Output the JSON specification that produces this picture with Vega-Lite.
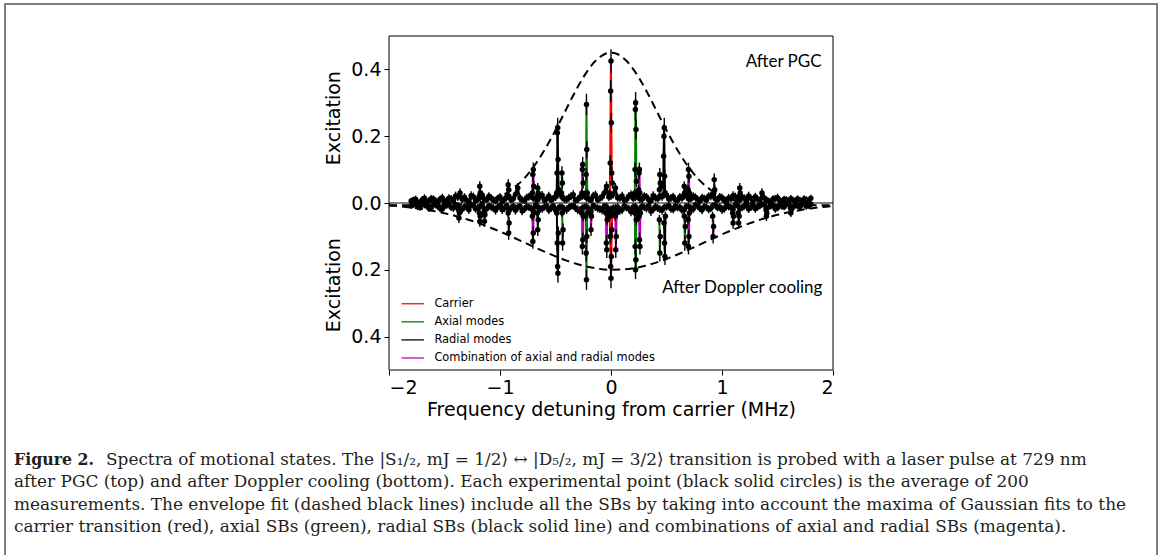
{
"$schema": "https://vega.github.io/schema/vega-lite/v6.json",
"width": 1152,
"height": 553,
"autosize": "none",
"padding": {"left": 5, "top": 4, "right": 5, "bottom": -2},
"background": "white",
"config": {
  "view": {"stroke": "#7f7f7f", "strokeWidth": 2},
  "axis": {"grid": false, "domain": false, "labelFont": "DejaVu Sans", "labelFontSize": 19, "labelColor": "black", "tickColor": "black", "tickSize": 5, "tickWidth": 1, "labelPadding": 3, "titleFont": "DejaVu Sans", "titleFontSize": 19, "titleFontWeight": "normal", "titleColor": "black", "titlePadding": 3}
},
"datasets": {
"spec": [
{"x":-1.8,"y":0.006,"e":0.010,"c":"k","g":"T"},{"x":-1.76,"y":0.011,"e":0.011,"c":"k","g":"T"},{"x":-1.72,"y":0.003,"e":0.009,"c":"k","g":"T"},{"x":-1.68,"y":0.014,"e":0.012,"c":"k","g":"T"},{"x":-1.64,"y":0.007,"e":0.010,"c":"k","g":"T"},{"x":-1.6,"y":0.012,"e":0.011,"c":"k","g":"T"},{"x":-1.56,"y":0.002,"e":0.009,"c":"k","g":"T"},{"x":-1.52,"y":0.016,"e":0.012,"c":"k","g":"T"},{"x":-1.48,"y":0.008,"e":0.010,"c":"k","g":"T"},{"x":-1.44,"y":0.013,"e":0.011,"c":"k","g":"T"},{"x":-1.4,"y":0.021,"e":0.013,"c":"k","g":"T"},{"x":-1.36,"y":0.030,"e":0.014,"c":"k","g":"T"},{"x":-1.32,"y":0.017,"e":0.012,"c":"k","g":"T"},{"x":-1.28,"y":0.005,"e":0.009,"c":"k","g":"T"},{"x":-1.24,"y":0.019,"e":0.012,"c":"k","g":"T"},{"x":-1.2,"y":0.012,"e":0.011,"c":"k","g":"T"},{"x":-1.16,"y":0.024,"e":0.013,"c":"k","g":"T"},{"x":-1.12,"y":0.010,"e":0.010,"c":"k","g":"T"},{"x":-1.08,"y":0.015,"e":0.011,"c":"k","g":"T"},{"x":-1.04,"y":0.006,"e":0.010,"c":"k","g":"T"},{"x":-1.0,"y":0.018,"e":0.012,"c":"k","g":"T"},{"x":-0.96,"y":0.011,"e":0.011,"c":"k","g":"T"},{"x":-0.92,"y":0.020,"e":0.012,"c":"k","g":"T"},{"x":-0.88,"y":0.013,"e":0.011,"c":"k","g":"T"},{"x":-0.84,"y":0.045,"e":0.015,"c":"k","g":"T"},{"x":-0.8,"y":0.009,"e":0.010,"c":"k","g":"T"},{"x":-0.76,"y":0.016,"e":0.012,"c":"k","g":"T"},{"x":-0.72,"y":0.022,"e":0.013,"c":"k","g":"T"},{"x":-0.68,"y":0.012,"e":0.011,"c":"k","g":"T"},{"x":-0.64,"y":0.019,"e":0.012,"c":"k","g":"T"},{"x":-0.6,"y":0.008,"e":0.010,"c":"k","g":"T"},{"x":-0.56,"y":0.021,"e":0.013,"c":"k","g":"T"},{"x":-0.52,"y":0.014,"e":0.011,"c":"k","g":"T"},{"x":-0.48,"y":0.026,"e":0.013,"c":"k","g":"T"},{"x":-0.44,"y":0.017,"e":0.012,"c":"k","g":"T"},{"x":-0.4,"y":0.011,"e":0.011,"c":"k","g":"T"},{"x":-0.36,"y":0.020,"e":0.012,"c":"k","g":"T"},{"x":-0.32,"y":0.008,"e":0.010,"c":"k","g":"T"},{"x":-0.28,"y":0.018,"e":0.012,"c":"k","g":"T"},{"x":-0.24,"y":0.024,"e":0.013,"c":"k","g":"T"},{"x":-0.2,"y":0.013,"e":0.011,"c":"k","g":"T"},{"x":-0.16,"y":0.021,"e":0.013,"c":"k","g":"T"},{"x":-0.12,"y":0.010,"e":0.010,"c":"k","g":"T"},{"x":-0.08,"y":0.019,"e":0.012,"c":"k","g":"T"},{"x":-0.04,"y":0.050,"e":0.015,"c":"k","g":"T"},{"x":0.0,"y":0.022,"e":0.013,"c":"k","g":"T"},{"x":0.04,"y":0.045,"e":0.015,"c":"k","g":"T"},{"x":0.08,"y":0.015,"e":0.011,"c":"k","g":"T"},{"x":0.12,"y":0.009,"e":0.010,"c":"k","g":"T"},{"x":0.16,"y":0.020,"e":0.012,"c":"k","g":"T"},{"x":0.2,"y":0.014,"e":0.011,"c":"k","g":"T"},{"x":0.24,"y":0.023,"e":0.013,"c":"k","g":"T"},{"x":0.28,"y":0.011,"e":0.011,"c":"k","g":"T"},{"x":0.32,"y":0.018,"e":0.012,"c":"k","g":"T"},{"x":0.36,"y":0.007,"e":0.010,"c":"k","g":"T"},{"x":0.4,"y":0.016,"e":0.012,"c":"k","g":"T"},{"x":0.44,"y":0.021,"e":0.013,"c":"k","g":"T"},{"x":0.48,"y":0.028,"e":0.014,"c":"k","g":"T"},{"x":0.52,"y":0.012,"e":0.011,"c":"k","g":"T"},{"x":0.56,"y":0.019,"e":0.012,"c":"k","g":"T"},{"x":0.6,"y":0.008,"e":0.010,"c":"k","g":"T"},{"x":0.64,"y":0.015,"e":0.011,"c":"k","g":"T"},{"x":0.68,"y":0.022,"e":0.013,"c":"k","g":"T"},{"x":0.72,"y":0.013,"e":0.011,"c":"k","g":"T"},{"x":0.76,"y":0.017,"e":0.012,"c":"k","g":"T"},{"x":0.8,"y":0.006,"e":0.010,"c":"k","g":"T"},{"x":0.84,"y":0.014,"e":0.011,"c":"k","g":"T"},{"x":0.88,"y":0.020,"e":0.012,"c":"k","g":"T"},{"x":0.92,"y":0.024,"e":0.013,"c":"k","g":"T"},{"x":0.96,"y":0.010,"e":0.010,"c":"k","g":"T"},{"x":1.0,"y":0.016,"e":0.012,"c":"k","g":"T"},{"x":1.04,"y":0.005,"e":0.009,"c":"k","g":"T"},{"x":1.08,"y":0.013,"e":0.011,"c":"k","g":"T"},{"x":1.12,"y":0.019,"e":0.012,"c":"k","g":"T"},{"x":1.16,"y":0.009,"e":0.010,"c":"k","g":"T"},{"x":1.2,"y":0.015,"e":0.011,"c":"k","g":"T"},{"x":1.24,"y":0.021,"e":0.013,"c":"k","g":"T"},{"x":1.28,"y":0.007,"e":0.010,"c":"k","g":"T"},{"x":1.32,"y":0.012,"e":0.011,"c":"k","g":"T"},{"x":1.36,"y":0.030,"e":0.014,"c":"k","g":"T"},{"x":1.4,"y":0.010,"e":0.010,"c":"k","g":"T"},{"x":1.44,"y":0.004,"e":0.009,"c":"k","g":"T"},{"x":1.48,"y":0.013,"e":0.011,"c":"k","g":"T"},{"x":1.52,"y":0.008,"e":0.010,"c":"k","g":"T"},{"x":1.56,"y":0.011,"e":0.011,"c":"k","g":"T"},{"x":1.6,"y":0.003,"e":0.009,"c":"k","g":"T"},{"x":1.64,"y":0.009,"e":0.010,"c":"k","g":"T"},{"x":1.68,"y":0.012,"e":0.011,"c":"k","g":"T"},{"x":1.72,"y":0.005,"e":0.009,"c":"k","g":"T"},{"x":1.76,"y":0.010,"e":0.010,"c":"k","g":"T"},{"x":1.8,"y":0.014,"e":0.011,"c":"k","g":"T"},
{"x":-1.78,"y":0.009,"e":0.010,"c":"k","g":"T"},{"x":-1.74,"y":0.001,"e":0.009,"c":"k","g":"T"},{"x":-1.7,"y":0.010,"e":0.011,"c":"k","g":"T"},{"x":-1.66,"y":0.004,"e":0.009,"c":"k","g":"T"},{"x":-1.62,"y":0.013,"e":0.011,"c":"k","g":"T"},{"x":-1.58,"y":0.007,"e":0.010,"c":"k","g":"T"},{"x":-1.54,"y":0.011,"e":0.011,"c":"k","g":"T"},{"x":-1.5,"y":0.003,"e":0.009,"c":"k","g":"T"},{"x":-1.46,"y":0.014,"e":0.012,"c":"k","g":"T"},{"x":-1.42,"y":0.006,"e":0.010,"c":"k","g":"T"},{"x":-1.38,"y":0.018,"e":0.012,"c":"k","g":"T"},{"x":-1.34,"y":0.011,"e":0.011,"c":"k","g":"T"},{"x":-1.3,"y":0.008,"e":0.010,"c":"k","g":"T"},{"x":-1.26,"y":0.022,"e":0.013,"c":"k","g":"T"},{"x":-1.22,"y":0.006,"e":0.010,"c":"k","g":"T"},{"x":-1.18,"y":0.016,"e":0.012,"c":"k","g":"T"},{"x":-1.14,"y":0.012,"e":0.011,"c":"k","g":"T"},{"x":-1.1,"y":0.020,"e":0.012,"c":"k","g":"T"},{"x":-1.06,"y":0.009,"e":0.010,"c":"k","g":"T"},{"x":-1.02,"y":0.014,"e":0.011,"c":"k","g":"T"},{"x":-0.98,"y":0.004,"e":0.009,"c":"k","g":"T"},{"x":-0.94,"y":0.017,"e":0.012,"c":"k","g":"T"},{"x":-0.9,"y":0.010,"e":0.010,"c":"k","g":"T"},{"x":-0.86,"y":0.026,"e":0.013,"c":"k","g":"T"},{"x":-0.82,"y":0.015,"e":0.012,"c":"k","g":"T"},{"x":-0.78,"y":0.007,"e":0.010,"c":"k","g":"T"},{"x":-0.74,"y":0.019,"e":0.012,"c":"k","g":"T"},{"x":-0.7,"y":0.014,"e":0.011,"c":"k","g":"T"},{"x":-0.66,"y":0.010,"e":0.010,"c":"k","g":"T"},{"x":-0.62,"y":0.023,"e":0.013,"c":"k","g":"T"},{"x":-0.58,"y":0.013,"e":0.011,"c":"k","g":"T"},{"x":-0.54,"y":0.009,"e":0.010,"c":"k","g":"T"},{"x":-0.5,"y":0.018,"e":0.012,"c":"k","g":"T"},{"x":-0.46,"y":0.031,"e":0.014,"c":"k","g":"T"},{"x":-0.42,"y":0.012,"e":0.011,"c":"k","g":"T"},{"x":-0.38,"y":0.016,"e":0.012,"c":"k","g":"T"},{"x":-0.34,"y":0.025,"e":0.013,"c":"k","g":"T"},{"x":-0.3,"y":0.011,"e":0.011,"c":"k","g":"T"},{"x":-0.26,"y":0.020,"e":0.012,"c":"k","g":"T"},{"x":-0.22,"y":0.015,"e":0.012,"c":"k","g":"T"},{"x":-0.18,"y":0.009,"e":0.010,"c":"k","g":"T"},{"x":-0.14,"y":0.024,"e":0.013,"c":"k","g":"T"},{"x":-0.1,"y":0.014,"e":0.011,"c":"k","g":"T"},{"x":-0.06,"y":0.030,"e":0.014,"c":"k","g":"T"},{"x":-0.02,"y":0.018,"e":0.012,"c":"k","g":"T"},{"x":0.02,"y":0.026,"e":0.013,"c":"k","g":"T"},{"x":0.06,"y":0.016,"e":0.012,"c":"k","g":"T"},{"x":0.1,"y":0.021,"e":0.013,"c":"k","g":"T"},{"x":0.14,"y":0.011,"e":0.011,"c":"k","g":"T"},{"x":0.18,"y":0.025,"e":0.013,"c":"k","g":"T"},{"x":0.22,"y":0.017,"e":0.012,"c":"k","g":"T"},{"x":0.26,"y":0.012,"e":0.011,"c":"k","g":"T"},{"x":0.3,"y":0.020,"e":0.012,"c":"k","g":"T"},{"x":0.34,"y":0.010,"e":0.010,"c":"k","g":"T"},{"x":0.38,"y":0.022,"e":0.013,"c":"k","g":"T"},{"x":0.42,"y":0.013,"e":0.011,"c":"k","g":"T"},{"x":0.46,"y":0.019,"e":0.012,"c":"k","g":"T"},{"x":0.5,"y":0.024,"e":0.013,"c":"k","g":"T"},{"x":0.54,"y":0.015,"e":0.012,"c":"k","g":"T"},{"x":0.58,"y":0.010,"e":0.010,"c":"k","g":"T"},{"x":0.62,"y":0.018,"e":0.012,"c":"k","g":"T"},{"x":0.66,"y":0.026,"e":0.013,"c":"k","g":"T"},{"x":0.7,"y":0.012,"e":0.011,"c":"k","g":"T"},{"x":0.74,"y":0.020,"e":0.012,"c":"k","g":"T"},{"x":0.78,"y":0.011,"e":0.011,"c":"k","g":"T"},{"x":0.82,"y":0.016,"e":0.012,"c":"k","g":"T"},{"x":0.86,"y":0.009,"e":0.010,"c":"k","g":"T"},{"x":0.9,"y":0.021,"e":0.013,"c":"k","g":"T"},{"x":0.94,"y":0.013,"e":0.011,"c":"k","g":"T"},{"x":0.98,"y":0.018,"e":0.012,"c":"k","g":"T"},{"x":1.02,"y":0.008,"e":0.010,"c":"k","g":"T"},{"x":1.06,"y":0.015,"e":0.012,"c":"k","g":"T"},{"x":1.1,"y":0.022,"e":0.013,"c":"k","g":"T"},{"x":1.14,"y":0.010,"e":0.010,"c":"k","g":"T"},{"x":1.18,"y":0.017,"e":0.012,"c":"k","g":"T"},{"x":1.22,"y":0.007,"e":0.010,"c":"k","g":"T"},{"x":1.26,"y":0.014,"e":0.011,"c":"k","g":"T"},{"x":1.3,"y":0.019,"e":0.012,"c":"k","g":"T"},{"x":1.34,"y":0.009,"e":0.010,"c":"k","g":"T"},{"x":1.38,"y":0.015,"e":0.012,"c":"k","g":"T"},{"x":1.42,"y":0.006,"e":0.010,"c":"k","g":"T"},{"x":1.46,"y":0.012,"e":0.011,"c":"k","g":"T"},{"x":1.5,"y":0.016,"e":0.012,"c":"k","g":"T"},{"x":1.54,"y":0.005,"e":0.009,"c":"k","g":"T"},{"x":1.58,"y":0.010,"e":0.010,"c":"k","g":"T"},{"x":1.62,"y":0.013,"e":0.011,"c":"k","g":"T"},{"x":1.66,"y":0.004,"e":0.009,"c":"k","g":"T"},{"x":1.7,"y":0.009,"e":0.010,"c":"k","g":"T"},{"x":1.74,"y":0.012,"e":0.011,"c":"k","g":"T"},{"x":1.78,"y":0.003,"e":0.009,"c":"k","g":"T"},
{"x":-1.8,"y":-0.008,"e":0.010,"c":"k","g":"B"},{"x":-1.76,"y":-0.003,"e":0.009,"c":"k","g":"B"},{"x":-1.72,"y":-0.012,"e":0.011,"c":"k","g":"B"},{"x":-1.68,"y":-0.006,"e":0.010,"c":"k","g":"B"},{"x":-1.64,"y":-0.015,"e":0.012,"c":"k","g":"B"},{"x":-1.6,"y":-0.004,"e":0.009,"c":"k","g":"B"},{"x":-1.56,"y":-0.010,"e":0.010,"c":"k","g":"B"},{"x":-1.52,"y":-0.018,"e":0.012,"c":"k","g":"B"},{"x":-1.48,"y":-0.007,"e":0.010,"c":"k","g":"B"},{"x":-1.44,"y":-0.013,"e":0.011,"c":"k","g":"B"},{"x":-1.4,"y":-0.005,"e":0.009,"c":"k","g":"B"},{"x":-1.36,"y":-0.016,"e":0.012,"c":"k","g":"B"},{"x":-1.32,"y":-0.011,"e":0.011,"c":"k","g":"B"},{"x":-1.28,"y":-0.020,"e":0.013,"c":"k","g":"B"},{"x":-1.24,"y":-0.008,"e":0.010,"c":"k","g":"B"},{"x":-1.2,"y":-0.014,"e":0.011,"c":"k","g":"B"},{"x":-1.16,"y":-0.006,"e":0.010,"c":"k","g":"B"},{"x":-1.12,"y":-0.017,"e":0.012,"c":"k","g":"B"},{"x":-1.08,"y":-0.012,"e":0.011,"c":"k","g":"B"},{"x":-1.04,"y":-0.022,"e":0.013,"c":"k","g":"B"},{"x":-1.0,"y":-0.009,"e":0.010,"c":"k","g":"B"},{"x":-0.96,"y":-0.015,"e":0.012,"c":"k","g":"B"},{"x":-0.92,"y":-0.019,"e":0.012,"c":"k","g":"B"},{"x":-0.88,"y":-0.010,"e":0.010,"c":"k","g":"B"},{"x":-0.84,"y":-0.013,"e":0.011,"c":"k","g":"B"},{"x":-0.8,"y":-0.024,"e":0.013,"c":"k","g":"B"},{"x":-0.76,"y":-0.011,"e":0.011,"c":"k","g":"B"},{"x":-0.72,"y":-0.016,"e":0.012,"c":"k","g":"B"},{"x":-0.68,"y":-0.007,"e":0.010,"c":"k","g":"B"},{"x":-0.64,"y":-0.018,"e":0.012,"c":"k","g":"B"},{"x":-0.6,"y":-0.012,"e":0.011,"c":"k","g":"B"},{"x":-0.56,"y":-0.021,"e":0.013,"c":"k","g":"B"},{"x":-0.52,"y":-0.009,"e":0.010,"c":"k","g":"B"},{"x":-0.48,"y":-0.017,"e":0.012,"c":"k","g":"B"},{"x":-0.44,"y":-0.013,"e":0.011,"c":"k","g":"B"},{"x":-0.4,"y":-0.020,"e":0.013,"c":"k","g":"B"},{"x":-0.36,"y":-0.010,"e":0.010,"c":"k","g":"B"},{"x":-0.32,"y":-0.015,"e":0.012,"c":"k","g":"B"},{"x":-0.28,"y":-0.023,"e":0.013,"c":"k","g":"B"},{"x":-0.24,"y":-0.012,"e":0.011,"c":"k","g":"B"},{"x":-0.2,"y":-0.018,"e":0.012,"c":"k","g":"B"},{"x":-0.16,"y":-0.008,"e":0.010,"c":"k","g":"B"},{"x":-0.12,"y":-0.016,"e":0.012,"c":"k","g":"B"},{"x":-0.08,"y":-0.021,"e":0.013,"c":"k","g":"B"},{"x":-0.04,"y":-0.011,"e":0.011,"c":"k","g":"B"},{"x":0.0,"y":-0.019,"e":0.012,"c":"k","g":"B"},{"x":0.04,"y":-0.014,"e":0.011,"c":"k","g":"B"},{"x":0.08,"y":-0.022,"e":0.013,"c":"k","g":"B"},{"x":0.12,"y":-0.009,"e":0.010,"c":"k","g":"B"},{"x":0.16,"y":-0.017,"e":0.012,"c":"k","g":"B"},{"x":0.2,"y":-0.012,"e":0.011,"c":"k","g":"B"},{"x":0.24,"y":-0.020,"e":0.013,"c":"k","g":"B"},{"x":0.28,"y":-0.010,"e":0.010,"c":"k","g":"B"},{"x":0.32,"y":-0.016,"e":0.012,"c":"k","g":"B"},{"x":0.36,"y":-0.025,"e":0.014,"c":"k","g":"B"},{"x":0.4,"y":-0.011,"e":0.011,"c":"k","g":"B"},{"x":0.44,"y":-0.018,"e":0.012,"c":"k","g":"B"},{"x":0.48,"y":-0.013,"e":0.011,"c":"k","g":"B"},{"x":0.52,"y":-0.008,"e":0.010,"c":"k","g":"B"},{"x":0.56,"y":-0.019,"e":0.012,"c":"k","g":"B"},{"x":0.6,"y":-0.014,"e":0.011,"c":"k","g":"B"},{"x":0.64,"y":-0.021,"e":0.013,"c":"k","g":"B"},{"x":0.68,"y":-0.010,"e":0.010,"c":"k","g":"B"},{"x":0.72,"y":-0.016,"e":0.012,"c":"k","g":"B"},{"x":0.76,"y":-0.006,"e":0.010,"c":"k","g":"B"},{"x":0.8,"y":-0.015,"e":0.012,"c":"k","g":"B"},{"x":0.84,"y":-0.011,"e":0.011,"c":"k","g":"B"},{"x":0.88,"y":-0.019,"e":0.012,"c":"k","g":"B"},{"x":0.92,"y":-0.008,"e":0.010,"c":"k","g":"B"},{"x":0.96,"y":-0.014,"e":0.011,"c":"k","g":"B"},{"x":1.0,"y":-0.020,"e":0.013,"c":"k","g":"B"},{"x":1.04,"y":-0.009,"e":0.010,"c":"k","g":"B"},{"x":1.08,"y":-0.013,"e":0.011,"c":"k","g":"B"},{"x":1.12,"y":-0.005,"e":0.009,"c":"k","g":"B"},{"x":1.16,"y":-0.016,"e":0.012,"c":"k","g":"B"},{"x":1.2,"y":-0.010,"e":0.010,"c":"k","g":"B"},{"x":1.24,"y":-0.018,"e":0.012,"c":"k","g":"B"},{"x":1.28,"y":-0.007,"e":0.010,"c":"k","g":"B"},{"x":1.32,"y":-0.012,"e":0.011,"c":"k","g":"B"},{"x":1.36,"y":-0.004,"e":0.009,"c":"k","g":"B"},{"x":1.4,"y":-0.014,"e":0.011,"c":"k","g":"B"},{"x":1.44,"y":-0.009,"e":0.010,"c":"k","g":"B"},{"x":1.48,"y":-0.017,"e":0.012,"c":"k","g":"B"},{"x":1.52,"y":-0.006,"e":0.010,"c":"k","g":"B"},{"x":1.56,"y":-0.011,"e":0.011,"c":"k","g":"B"},{"x":1.6,"y":-0.003,"e":0.009,"c":"k","g":"B"},{"x":1.64,"y":-0.013,"e":0.011,"c":"k","g":"B"},{"x":1.68,"y":-0.008,"e":0.010,"c":"k","g":"B"},{"x":1.72,"y":-0.005,"e":0.009,"c":"k","g":"B"},{"x":1.76,"y":-0.010,"e":0.010,"c":"k","g":"B"},{"x":1.8,"y":-0.004,"e":0.009,"c":"k","g":"B"},
{"x":-1.78,"y":-0.005,"e":0.009,"c":"k","g":"B"},{"x":-1.74,"y":-0.011,"e":0.011,"c":"k","g":"B"},{"x":-1.7,"y":-0.002,"e":0.009,"c":"k","g":"B"},{"x":-1.66,"y":-0.009,"e":0.010,"c":"k","g":"B"},{"x":-1.62,"y":-0.014,"e":0.011,"c":"k","g":"B"},{"x":-1.58,"y":-0.006,"e":0.010,"c":"k","g":"B"},{"x":-1.54,"y":-0.016,"e":0.012,"c":"k","g":"B"},{"x":-1.5,"y":-0.010,"e":0.010,"c":"k","g":"B"},{"x":-1.46,"y":-0.004,"e":0.009,"c":"k","g":"B"},{"x":-1.42,"y":-0.015,"e":0.012,"c":"k","g":"B"},{"x":-1.38,"y":-0.008,"e":0.010,"c":"k","g":"B"},{"x":-1.34,"y":-0.019,"e":0.012,"c":"k","g":"B"},{"x":-1.3,"y":-0.013,"e":0.011,"c":"k","g":"B"},{"x":-1.26,"y":-0.006,"e":0.010,"c":"k","g":"B"},{"x":-1.22,"y":-0.017,"e":0.012,"c":"k","g":"B"},{"x":-1.18,"y":-0.011,"e":0.011,"c":"k","g":"B"},{"x":-1.14,"y":-0.021,"e":0.013,"c":"k","g":"B"},{"x":-1.1,"y":-0.009,"e":0.010,"c":"k","g":"B"},{"x":-1.06,"y":-0.015,"e":0.012,"c":"k","g":"B"},{"x":-1.02,"y":-0.012,"e":0.011,"c":"k","g":"B"},{"x":-0.98,"y":-0.020,"e":0.013,"c":"k","g":"B"},{"x":-0.94,"y":-0.008,"e":0.010,"c":"k","g":"B"},{"x":-0.9,"y":-0.016,"e":0.012,"c":"k","g":"B"},{"x":-0.86,"y":-0.022,"e":0.013,"c":"k","g":"B"},{"x":-0.82,"y":-0.010,"e":0.010,"c":"k","g":"B"},{"x":-0.78,"y":-0.018,"e":0.012,"c":"k","g":"B"},{"x":-0.74,"y":-0.013,"e":0.011,"c":"k","g":"B"},{"x":-0.7,"y":-0.024,"e":0.013,"c":"k","g":"B"},{"x":-0.66,"y":-0.011,"e":0.011,"c":"k","g":"B"},{"x":-0.62,"y":-0.017,"e":0.012,"c":"k","g":"B"},{"x":-0.58,"y":-0.009,"e":0.010,"c":"k","g":"B"},{"x":-0.54,"y":-0.015,"e":0.012,"c":"k","g":"B"},{"x":-0.5,"y":-0.022,"e":0.013,"c":"k","g":"B"},{"x":-0.46,"y":-0.012,"e":0.011,"c":"k","g":"B"},{"x":-0.42,"y":-0.019,"e":0.012,"c":"k","g":"B"},{"x":-0.38,"y":-0.014,"e":0.011,"c":"k","g":"B"},{"x":-0.34,"y":-0.009,"e":0.010,"c":"k","g":"B"},{"x":-0.3,"y":-0.020,"e":0.013,"c":"k","g":"B"},{"x":-0.26,"y":-0.016,"e":0.012,"c":"k","g":"B"},{"x":-0.22,"y":-0.011,"e":0.011,"c":"k","g":"B"},{"x":-0.18,"y":-0.024,"e":0.013,"c":"k","g":"B"},{"x":-0.14,"y":-0.013,"e":0.011,"c":"k","g":"B"},{"x":-0.1,"y":-0.018,"e":0.012,"c":"k","g":"B"},{"x":-0.06,"y":-0.010,"e":0.010,"c":"k","g":"B"},{"x":-0.02,"y":-0.023,"e":0.013,"c":"k","g":"B"},{"x":0.02,"y":-0.016,"e":0.012,"c":"k","g":"B"},{"x":0.06,"y":-0.012,"e":0.011,"c":"k","g":"B"},{"x":0.1,"y":-0.020,"e":0.013,"c":"k","g":"B"},{"x":0.14,"y":-0.014,"e":0.011,"c":"k","g":"B"},{"x":0.18,"y":-0.026,"e":0.014,"c":"k","g":"B"},{"x":0.22,"y":-0.011,"e":0.011,"c":"k","g":"B"},{"x":0.26,"y":-0.018,"e":0.012,"c":"k","g":"B"},{"x":0.3,"y":-0.013,"e":0.011,"c":"k","g":"B"},{"x":0.34,"y":-0.008,"e":0.010,"c":"k","g":"B"},{"x":0.38,"y":-0.019,"e":0.012,"c":"k","g":"B"},{"x":0.42,"y":-0.015,"e":0.012,"c":"k","g":"B"},{"x":0.46,"y":-0.022,"e":0.013,"c":"k","g":"B"},{"x":0.5,"y":-0.012,"e":0.011,"c":"k","g":"B"},{"x":0.54,"y":-0.017,"e":0.012,"c":"k","g":"B"},{"x":0.58,"y":-0.009,"e":0.010,"c":"k","g":"B"},{"x":0.62,"y":-0.013,"e":0.011,"c":"k","g":"B"},{"x":0.66,"y":-0.020,"e":0.013,"c":"k","g":"B"},{"x":0.7,"y":-0.011,"e":0.011,"c":"k","g":"B"},{"x":0.74,"y":-0.018,"e":0.012,"c":"k","g":"B"},{"x":0.78,"y":-0.010,"e":0.010,"c":"k","g":"B"},{"x":0.82,"y":-0.021,"e":0.013,"c":"k","g":"B"},{"x":0.86,"y":-0.013,"e":0.011,"c":"k","g":"B"},{"x":0.9,"y":-0.016,"e":0.012,"c":"k","g":"B"},{"x":0.94,"y":-0.007,"e":0.010,"c":"k","g":"B"},{"x":0.98,"y":-0.012,"e":0.011,"c":"k","g":"B"},{"x":1.02,"y":-0.017,"e":0.012,"c":"k","g":"B"},{"x":1.06,"y":-0.011,"e":0.011,"c":"k","g":"B"},{"x":1.1,"y":-0.019,"e":0.012,"c":"k","g":"B"},{"x":1.14,"y":-0.008,"e":0.010,"c":"k","g":"B"},{"x":1.18,"y":-0.014,"e":0.011,"c":"k","g":"B"},{"x":1.22,"y":-0.006,"e":0.010,"c":"k","g":"B"},{"x":1.26,"y":-0.013,"e":0.011,"c":"k","g":"B"},{"x":1.3,"y":-0.017,"e":0.012,"c":"k","g":"B"},{"x":1.34,"y":-0.009,"e":0.010,"c":"k","g":"B"},{"x":1.38,"y":-0.005,"e":0.009,"c":"k","g":"B"},{"x":1.42,"y":-0.012,"e":0.011,"c":"k","g":"B"},{"x":1.46,"y":-0.007,"e":0.010,"c":"k","g":"B"},{"x":1.5,"y":-0.014,"e":0.011,"c":"k","g":"B"},{"x":1.54,"y":-0.010,"e":0.010,"c":"k","g":"B"},{"x":1.58,"y":-0.004,"e":0.009,"c":"k","g":"B"},{"x":1.62,"y":-0.011,"e":0.011,"c":"k","g":"B"},{"x":1.66,"y":-0.006,"e":0.010,"c":"k","g":"B"},{"x":1.7,"y":-0.012,"e":0.011,"c":"k","g":"B"},{"x":1.74,"y":-0.003,"e":0.009,"c":"k","g":"B"},{"x":1.78,"y":-0.008,"e":0.010,"c":"k","g":"B"},
{"x":-0.012,"y":0.03,"e":0.012,"c":"r","g":"T1"},{"x":-0.007,"y":0.12,"e":0.023,"c":"r","g":"T1"},{"x":-0.003,"y":0.335,"e":0.033,"c":"r","g":"T1"},{"x":0,"y":0.425,"e":0.035,"c":"r","g":"T1"},{"x":0.003,"y":0.24,"e":0.030,"c":"r","g":"T1"},{"x":0.007,"y":0.09,"e":0.020,"c":"r","g":"T1"},{"x":0.012,"y":0.06,"e":0.017,"c":"r","g":"T1"},
{"x":-0.228,"y":0.02,"e":0.010,"c":"g","g":"T2"},{"x":-0.224,"y":0.085,"e":0.020,"c":"g","g":"T2"},{"x":-0.221,"y":0.295,"e":0.032,"c":"g","g":"T2"},{"x":-0.218,"y":0.16,"e":0.026,"c":"g","g":"T2"},{"x":-0.214,"y":0.03,"e":0.012,"c":"g","g":"T2"},
{"x":0.214,"y":0.03,"e":0.012,"c":"g","g":"T3"},{"x":0.217,"y":0.10,"e":0.021,"c":"g","g":"T3"},{"x":0.220,"y":0.28,"e":0.032,"c":"g","g":"T3"},{"x":0.222,"y":0.30,"e":0.032,"c":"g","g":"T3"},{"x":0.225,"y":0.22,"e":0.029,"c":"g","g":"T3"},{"x":0.229,"y":0.065,"e":0.017,"c":"g","g":"T3"},
{"x":-0.490,"y":0.03,"e":0.012,"c":"k","g":"T4"},{"x":-0.486,"y":0.09,"e":0.020,"c":"k","g":"T4"},{"x":-0.483,"y":0.21,"e":0.029,"c":"k","g":"T4"},{"x":-0.480,"y":0.225,"e":0.030,"c":"k","g":"T4"},{"x":-0.477,"y":0.13,"e":0.024,"c":"k","g":"T4"},{"x":-0.472,"y":0.04,"e":0.014,"c":"k","g":"T4"},
{"x":0.470,"y":0.05,"e":0.015,"c":"k","g":"T5"},{"x":0.474,"y":0.14,"e":0.025,"c":"k","g":"T5"},{"x":0.477,"y":0.20,"e":0.028,"c":"k","g":"T5"},{"x":0.480,"y":0.225,"e":0.030,"c":"k","g":"T5"},{"x":0.483,"y":0.08,"e":0.019,"c":"k","g":"T5"},{"x":0.488,"y":0.03,"e":0.012,"c":"k","g":"T5"},
{"x":-0.262,"y":0.03,"e":0.012,"c":"m","g":"T6"},{"x":-0.258,"y":0.10,"e":0.021,"c":"m","g":"T6"},{"x":-0.255,"y":0.115,"e":0.023,"c":"m","g":"T6"},{"x":-0.251,"y":0.06,"e":0.017,"c":"m","g":"T6"},
{"x":0.249,"y":0.04,"e":0.014,"c":"m","g":"T7"},{"x":0.253,"y":0.09,"e":0.020,"c":"m","g":"T7"},{"x":0.256,"y":0.10,"e":0.021,"c":"m","g":"T7"},{"x":0.260,"y":0.03,"e":0.012,"c":"m","g":"T7"},
{"x":-0.446,"y":0.03,"e":0.012,"c":"g","g":"T8"},{"x":-0.442,"y":0.09,"e":0.020,"c":"g","g":"T8"},{"x":-0.438,"y":0.06,"e":0.017,"c":"g","g":"T8"},
{"x":0.436,"y":0.04,"e":0.014,"c":"g","g":"T9"},{"x":0.440,"y":0.085,"e":0.020,"c":"g","g":"T9"},{"x":0.444,"y":0.06,"e":0.017,"c":"g","g":"T9"},
{"x":-0.708,"y":0.03,"e":0.012,"c":"m","g":"T10"},{"x":-0.704,"y":0.085,"e":0.020,"c":"m","g":"T10"},{"x":-0.700,"y":0.10,"e":0.021,"c":"m","g":"T10"},{"x":-0.696,"y":0.05,"e":0.015,"c":"m","g":"T10"},
{"x":0.694,"y":0.04,"e":0.014,"c":"m","g":"T11"},{"x":0.698,"y":0.10,"e":0.021,"c":"m","g":"T11"},{"x":0.702,"y":0.08,"e":0.019,"c":"m","g":"T11"},{"x":0.706,"y":0.03,"e":0.012,"c":"m","g":"T11"},
{"x":-0.664,"y":0.02,"e":0.010,"c":"g","g":"T12"},{"x":-0.660,"y":0.045,"e":0.015,"c":"g","g":"T12"},{"x":-0.656,"y":0.03,"e":0.012,"c":"g","g":"T12"},
{"x":0.656,"y":0.02,"e":0.010,"c":"g","g":"T13"},{"x":0.660,"y":0.05,"e":0.015,"c":"g","g":"T13"},{"x":0.664,"y":0.03,"e":0.012,"c":"g","g":"T13"},
{"x":-0.930,"y":0.02,"e":0.010,"c":"m","g":"T14"},{"x":-0.926,"y":0.055,"e":0.016,"c":"m","g":"T14"},{"x":-0.922,"y":0.04,"e":0.014,"c":"m","g":"T14"},
{"x":0.926,"y":0.03,"e":0.012,"c":"m","g":"T15"},{"x":0.930,"y":0.07,"e":0.018,"c":"m","g":"T15"},{"x":0.934,"y":0.04,"e":0.014,"c":"m","g":"T15"},
{"x":-1.186,"y":0.02,"e":0.010,"c":"m","g":"T16"},{"x":-1.182,"y":0.05,"e":0.015,"c":"m","g":"T16"},{"x":-1.178,"y":0.03,"e":0.012,"c":"m","g":"T16"},
{"x":1.156,"y":0.02,"e":0.010,"c":"m","g":"T17"},{"x":1.160,"y":0.045,"e":0.015,"c":"m","g":"T17"},{"x":1.164,"y":0.03,"e":0.012,"c":"m","g":"T17"},
{"x":-0.012,"y":-0.04,"e":0.014,"c":"r","g":"B1"},{"x":-0.007,"y":-0.10,"e":0.021,"c":"r","g":"B1"},{"x":-0.003,"y":-0.19,"e":0.028,"c":"r","g":"B1"},{"x":0,"y":-0.225,"e":0.030,"c":"r","g":"B1"},{"x":0.003,"y":-0.16,"e":0.026,"c":"r","g":"B1"},{"x":0.007,"y":-0.08,"e":0.019,"c":"r","g":"B1"},{"x":0.012,"y":-0.03,"e":0.012,"c":"r","g":"B1"},
{"x":-0.046,"y":-0.03,"e":0.012,"c":"m","g":"B2"},{"x":-0.042,"y":-0.12,"e":0.023,"c":"m","g":"B2"},{"x":-0.038,"y":-0.14,"e":0.025,"c":"m","g":"B2"},{"x":-0.034,"y":-0.05,"e":0.015,"c":"m","g":"B2"},
{"x":0.039,"y":-0.04,"e":0.014,"c":"m","g":"B3"},{"x":0.043,"y":-0.14,"e":0.025,"c":"m","g":"B3"},{"x":0.047,"y":-0.10,"e":0.021,"c":"m","g":"B3"},{"x":0.051,"y":-0.03,"e":0.012,"c":"m","g":"B3"},
{"x":-0.228,"y":-0.04,"e":0.014,"c":"g","g":"B4"},{"x":-0.224,"y":-0.15,"e":0.025,"c":"g","g":"B4"},{"x":-0.221,"y":-0.23,"e":0.030,"c":"g","g":"B4"},{"x":-0.218,"y":-0.10,"e":0.021,"c":"g","g":"B4"},{"x":-0.214,"y":-0.03,"e":0.012,"c":"g","g":"B4"},
{"x":0.214,"y":-0.03,"e":0.012,"c":"g","g":"B5"},{"x":0.218,"y":-0.13,"e":0.024,"c":"g","g":"B5"},{"x":0.221,"y":-0.20,"e":0.028,"c":"g","g":"B5"},{"x":0.224,"y":-0.17,"e":0.027,"c":"g","g":"B5"},{"x":0.228,"y":-0.05,"e":0.015,"c":"g","g":"B5"},
{"x":-0.262,"y":-0.03,"e":0.012,"c":"m","g":"B6"},{"x":-0.258,"y":-0.13,"e":0.024,"c":"m","g":"B6"},{"x":-0.254,"y":-0.11,"e":0.022,"c":"m","g":"B6"},{"x":-0.250,"y":-0.04,"e":0.014,"c":"m","g":"B6"},
{"x":0.253,"y":-0.04,"e":0.014,"c":"m","g":"B7"},{"x":0.257,"y":-0.11,"e":0.022,"c":"m","g":"B7"},{"x":0.261,"y":-0.13,"e":0.024,"c":"m","g":"B7"},{"x":0.265,"y":-0.03,"e":0.012,"c":"m","g":"B7"},
{"x":-0.184,"y":-0.03,"e":0.012,"c":"m","g":"B8"},{"x":-0.180,"y":-0.08,"e":0.019,"c":"m","g":"B8"},{"x":-0.176,"y":-0.04,"e":0.014,"c":"m","g":"B8"},
{"x":-0.440,"y":-0.03,"e":0.012,"c":"g","g":"B9"},{"x":-0.436,"y":-0.12,"e":0.023,"c":"g","g":"B9"},{"x":-0.432,"y":-0.08,"e":0.019,"c":"g","g":"B9"},
{"x":0.436,"y":-0.05,"e":0.015,"c":"g","g":"B10"},{"x":0.440,"y":-0.15,"e":0.025,"c":"g","g":"B10"},{"x":0.444,"y":-0.10,"e":0.021,"c":"g","g":"B10"},
{"x":-0.488,"y":-0.03,"e":0.012,"c":"k","g":"B11"},{"x":-0.484,"y":-0.12,"e":0.023,"c":"k","g":"B11"},{"x":-0.481,"y":-0.19,"e":0.028,"c":"k","g":"B11"},{"x":-0.478,"y":-0.21,"e":0.029,"c":"k","g":"B11"},{"x":-0.475,"y":-0.09,"e":0.020,"c":"k","g":"B11"},
{"x":0.478,"y":-0.06,"e":0.017,"c":"k","g":"B12"},{"x":0.482,"y":-0.12,"e":0.023,"c":"k","g":"B12"},{"x":0.486,"y":-0.16,"e":0.026,"c":"k","g":"B12"},{"x":0.490,"y":-0.04,"e":0.014,"c":"k","g":"B12"},
{"x":-0.664,"y":-0.03,"e":0.012,"c":"g","g":"B13"},{"x":-0.660,"y":-0.08,"e":0.019,"c":"g","g":"B13"},{"x":-0.656,"y":-0.05,"e":0.015,"c":"g","g":"B13"},
{"x":-0.708,"y":-0.04,"e":0.014,"c":"m","g":"B14"},{"x":-0.704,"y":-0.115,"e":0.022,"c":"m","g":"B14"},{"x":-0.700,"y":-0.09,"e":0.020,"c":"m","g":"B14"},{"x":-0.696,"y":-0.03,"e":0.012,"c":"m","g":"B14"},
{"x":0.661,"y":-0.04,"e":0.014,"c":"g","g":"B15"},{"x":0.665,"y":-0.12,"e":0.023,"c":"g","g":"B15"},{"x":0.669,"y":-0.07,"e":0.018,"c":"g","g":"B15"},
{"x":0.694,"y":-0.05,"e":0.015,"c":"m","g":"B16"},{"x":0.698,"y":-0.13,"e":0.024,"c":"m","g":"B16"},{"x":0.702,"y":-0.10,"e":0.021,"c":"m","g":"B16"},{"x":0.706,"y":-0.03,"e":0.012,"c":"m","g":"B16"},
{"x":-0.926,"y":-0.03,"e":0.012,"c":"m","g":"B17"},{"x":-0.922,"y":-0.09,"e":0.020,"c":"m","g":"B17"},{"x":-0.918,"y":-0.06,"e":0.017,"c":"m","g":"B17"},
{"x":0.916,"y":-0.04,"e":0.014,"c":"m","g":"B18"},{"x":0.920,"y":-0.10,"e":0.021,"c":"m","g":"B18"},{"x":0.924,"y":-0.07,"e":0.018,"c":"m","g":"B18"},
{"x":-1.186,"y":-0.03,"e":0.012,"c":"m","g":"B19"},{"x":-1.182,"y":-0.055,"e":0.016,"c":"m","g":"B19"},{"x":-1.178,"y":-0.04,"e":0.014,"c":"m","g":"B19"},
{"x":-1.144,"y":-0.03,"e":0.012,"c":"m","g":"B20"},{"x":-1.140,"y":-0.055,"e":0.016,"c":"m","g":"B20"},{"x":-1.136,"y":-0.035,"e":0.013,"c":"m","g":"B20"},
{"x":1.096,"y":-0.03,"e":0.012,"c":"g","g":"B21"},{"x":1.100,"y":-0.06,"e":0.017,"c":"g","g":"B21"},{"x":1.104,"y":-0.04,"e":0.014,"c":"g","g":"B21"},
{"x":1.146,"y":-0.03,"e":0.012,"c":"m","g":"B22"},{"x":1.150,"y":-0.06,"e":0.017,"c":"m","g":"B22"},{"x":1.154,"y":-0.04,"e":0.014,"c":"m","g":"B22"},
{"x":-1.374,"y":-0.02,"e":0.010,"c":"k","g":"B23"},{"x":-1.370,"y":-0.045,"e":0.015,"c":"k","g":"B23"},{"x":-1.366,"y":-0.03,"e":0.012,"c":"k","g":"B23"},
{"x":1.396,"y":-0.02,"e":0.010,"c":"k","g":"B24"},{"x":1.400,"y":-0.04,"e":0.014,"c":"k","g":"B24"},{"x":1.404,"y":-0.03,"e":0.012,"c":"k","g":"B24"},
{"x":1.616,"y":-0.015,"e":0.010,"c":"k","g":"B25"},{"x":1.620,"y":-0.03,"e":0.012,"c":"k","g":"B25"},{"x":1.624,"y":-0.02,"e":0.010,"c":"k","g":"B25"}
],
"env": [
{"x":-2.0,"y":-0.007,"g":"top"},{"x":-1.9,"y":-0.007,"g":"top"},{"x":-1.8,"y":-0.007,"g":"top"},{"x":-1.7,"y":-0.007,"g":"top"},{"x":-1.6,"y":-0.007,"g":"top"},{"x":-1.5,"y":-0.006,"g":"top"},{"x":-1.4,"y":-0.005,"g":"top"},{"x":-1.3,"y":-0.003,"g":"top"},{"x":-1.2,"y":0.001,"g":"top"},{"x":-1.1,"y":0.008,"g":"top"},{"x":-1.0,"y":0.020,"g":"top"},{"x":-0.95,"y":0.028,"g":"top"},{"x":-0.9,"y":0.039,"g":"top"},{"x":-0.85,"y":0.052,"g":"top"},{"x":-0.8,"y":0.067,"g":"top"},{"x":-0.75,"y":0.086,"g":"top"},{"x":-0.7,"y":0.107,"g":"top"},{"x":-0.65,"y":0.131,"g":"top"},{"x":-0.6,"y":0.158,"g":"top"},{"x":-0.55,"y":0.187,"g":"top"},{"x":-0.5,"y":0.218,"g":"top"},{"x":-0.45,"y":0.250,"g":"top"},{"x":-0.4,"y":0.283,"g":"top"},{"x":-0.35,"y":0.316,"g":"top"},{"x":-0.3,"y":0.347,"g":"top"},{"x":-0.25,"y":0.376,"g":"top"},{"x":-0.2,"y":0.401,"g":"top"},{"x":-0.15,"y":0.422,"g":"top"},{"x":-0.1,"y":0.437,"g":"top"},{"x":-0.05,"y":0.447,"g":"top"},{"x":0.0,"y":0.450,"g":"top"},{"x":0.05,"y":0.447,"g":"top"},{"x":0.1,"y":0.437,"g":"top"},{"x":0.15,"y":0.422,"g":"top"},{"x":0.2,"y":0.401,"g":"top"},{"x":0.25,"y":0.376,"g":"top"},{"x":0.3,"y":0.347,"g":"top"},{"x":0.35,"y":0.316,"g":"top"},{"x":0.4,"y":0.283,"g":"top"},{"x":0.45,"y":0.250,"g":"top"},{"x":0.5,"y":0.218,"g":"top"},{"x":0.55,"y":0.187,"g":"top"},{"x":0.6,"y":0.158,"g":"top"},{"x":0.65,"y":0.131,"g":"top"},{"x":0.7,"y":0.107,"g":"top"},{"x":0.75,"y":0.086,"g":"top"},{"x":0.8,"y":0.067,"g":"top"},{"x":0.85,"y":0.052,"g":"top"},{"x":0.9,"y":0.039,"g":"top"},{"x":0.95,"y":0.028,"g":"top"},{"x":1.0,"y":0.020,"g":"top"},{"x":1.1,"y":0.008,"g":"top"},{"x":1.2,"y":0.001,"g":"top"},{"x":1.3,"y":-0.003,"g":"top"},{"x":1.4,"y":-0.005,"g":"top"},{"x":1.5,"y":-0.006,"g":"top"},{"x":1.6,"y":-0.007,"g":"top"},{"x":1.7,"y":-0.007,"g":"top"},{"x":1.8,"y":-0.007,"g":"top"},{"x":1.9,"y":-0.007,"g":"top"},{"x":2.0,"y":-0.007,"g":"top"},
{"x":-2.0,"y":-0.0074,"g":"bot"},{"x":-1.9,"y":-0.0101,"g":"bot"},{"x":-1.8,"y":-0.0137,"g":"bot"},{"x":-1.7,"y":-0.0182,"g":"bot"},{"x":-1.6,"y":-0.0238,"g":"bot"},{"x":-1.5,"y":-0.0306,"g":"bot"},{"x":-1.4,"y":-0.0388,"g":"bot"},{"x":-1.3,"y":-0.0485,"g":"bot"},{"x":-1.2,"y":-0.0595,"g":"bot"},{"x":-1.1,"y":-0.0719,"g":"bot"},{"x":-1.0,"y":-0.0855,"g":"bot"},{"x":-0.9,"y":-0.1000,"g":"bot"},{"x":-0.8,"y":-0.1152,"g":"bot"},{"x":-0.7,"y":-0.1305,"g":"bot"},{"x":-0.6,"y":-0.1455,"g":"bot"},{"x":-0.5,"y":-0.1597,"g":"bot"},{"x":-0.4,"y":-0.1725,"g":"bot"},{"x":-0.3,"y":-0.1833,"g":"bot"},{"x":-0.2,"y":-0.1917,"g":"bot"},{"x":-0.1,"y":-0.1973,"g":"bot"},{"x":0.0,"y":-0.1999,"g":"bot"},{"x":0.1,"y":-0.1992,"g":"bot"},{"x":0.2,"y":-0.1954,"g":"bot"},{"x":0.3,"y":-0.1887,"g":"bot"},{"x":0.4,"y":-0.1792,"g":"bot"},{"x":0.5,"y":-0.1676,"g":"bot"},{"x":0.6,"y":-0.1542,"g":"bot"},{"x":0.7,"y":-0.1396,"g":"bot"},{"x":0.8,"y":-0.1244,"g":"bot"},{"x":0.9,"y":-0.1091,"g":"bot"},{"x":1.0,"y":-0.0941,"g":"bot"},{"x":1.1,"y":-0.0799,"g":"bot"},{"x":1.2,"y":-0.0668,"g":"bot"},{"x":1.3,"y":-0.0549,"g":"bot"},{"x":1.4,"y":-0.0445,"g":"bot"},{"x":1.5,"y":-0.0354,"g":"bot"},{"x":1.6,"y":-0.0278,"g":"bot"},{"x":1.7,"y":-0.0214,"g":"bot"},{"x":1.8,"y":-0.0162,"g":"bot"},{"x":1.9,"y":-0.0121,"g":"bot"},{"x":2.0,"y":-0.0089,"g":"bot"}
],
"cap": [
{"line":0,"t":"Spectra of motional states. The |S₁/₂, mJ = 1/2⟩ ↔ |D₅/₂, mJ = 3/2⟩ transition is probed with a laser pulse at 729 nm"},
{"line":1,"t":"after PGC (top) and after Doppler cooling (bottom). Each experimental point (black solid circles) is the average of 200"},
{"line":2,"t":"measurements. The envelope fit (dashed black lines) include all the SBs by taking into account the maxima of Gaussian fits to the"},
{"line":3,"t":"carrier transition (red), axial SBs (green), radial SBs (black solid line) and combinations of axial and radial SBs (magenta)."}
],
"one": [{"k": 1}],
"fig": [{"t": "Figure 2."}],
"pgc": [{"t": "After PGC"}],
"dop": [{"t": "After Doppler cooling"}],
"exc": [{"t": "Excitation"}]
},
"layer": [
{
  "layer": [
    {"data": {"name": "one"}, "mark": {"type": "rule", "color": "black", "strokeWidth": 1},
     "encoding": {"x": {"datum": -2, "type": "quantitative"}, "x2": {"datum": 2}, "y": {"datum": 0, "type": "quantitative"}}},
    {
      "data": {"name": "spec"},
      "encoding": {
        "x": {"field": "x", "type": "quantitative", "scale": {"domain": [-2, 2], "range": [384, 828], "nice": false, "zero": false},
              "axis": {"orient": "bottom", "offset": -187, "values": [-2, -1, 0, 1, 2], "title": "Frequency detuning from carrier (MHz)", "labelExpr": "datum.value < 0 ? '\u2212' + abs(datum.value) : '' + datum.value"}},
        "y": {"field": "y", "type": "quantitative", "scale": {"domain": [-0.5, 0.5], "range": [366, 32], "nice": false, "zero": false},
              "axis": {"orient": "left", "offset": -384, "values": [-0.4, -0.2, 0, 0.2, 0.4], "title": null, "labelExpr": "format(abs(datum.value), '.1f')"}}
      },
      "layer": [
        {"mark": {"type": "line", "strokeWidth": 2},
         "encoding": {
           "detail": {"field": "g"},
           "color": {"field": "c", "type": "nominal",
             "scale": {"domain": ["r", "g", "k", "m"], "range": ["#ff0000", "#008000", "#000000", "#bf00bf"]},
             "legend": {"orient": "none", "legendX": 402, "legendY": 294, "title": null, "symbolType": "M-2.5,0H2.5", "symbolSize": 81, "symbolStrokeWidth": 1.5, "symbolOpacity": 0.85, "labelFont": "DejaVu Sans", "labelFontSize": 11.4, "labelColor": "black", "labelOffset": 16, "labelLimit": 0, "rowPadding": 5.1, "padding": 0,
               "labelExpr": "datum.label == 'r' ? 'Carrier' : datum.label == 'g' ? 'Axial modes' : datum.label == 'k' ? 'Radial modes' : 'Combination of axial and radial modes'"}}
         }},
        {"mark": {"type": "errorbar", "color": "black", "thickness": 1.4, "ticks": false},
         "encoding": {"yError": {"field": "e"}}},
        {"mark": {"type": "circle", "size": 30, "color": "black", "opacity": 1}},
        {"data": {"name": "env"}, "mark": {"type": "line", "color": "black", "strokeWidth": 2, "strokeDash": [8, 5], "interpolate": "monotone"},
         "encoding": {"detail": {"field": "g"}}}
      ]
    },
    {"data": {"name": "one"}, "mark": {"type": "rect", "fill": null, "fillOpacity": 0, "stroke": "black", "strokeWidth": 1},
     "encoding": {"x": {"datum": -2, "type": "quantitative"}, "x2": {"datum": 2}, "y": {"datum": -0.5, "type": "quantitative"}, "y2": {"datum": 0.5}}},
    {"data": {"name": "pgc"}, "mark": {"type": "text", "font": "Lato", "fontSize": 17, "align": "right", "baseline": "middle", "color": "black"},
     "encoding": {"text": {"field": "t"}, "x": {"datum": 1.897, "type": "quantitative"}, "y": {"datum": 0.421, "type": "quantitative"}}},
    {"data": {"name": "dop"}, "mark": {"type": "text", "font": "Lato", "fontSize": 17, "align": "right", "baseline": "middle", "color": "black"},
     "encoding": {"text": {"field": "t"}, "x": {"datum": 1.905, "type": "quantitative"}, "y": {"datum": -0.255, "type": "quantitative"}}},
    {"data": {"name": "exc"}, "mark": {"type": "text", "font": "DejaVu Sans", "fontSize": 19, "angle": 270, "align": "center", "baseline": "middle", "color": "black"},
     "encoding": {"text": {"field": "t"}, "x": {"datum": -2.496, "type": "quantitative"}, "y": {"datum": 0.254, "type": "quantitative"}}},
    {"data": {"name": "exc"}, "mark": {"type": "text", "font": "DejaVu Sans", "fontSize": 19, "angle": 270, "align": "center", "baseline": "middle", "color": "black"},
     "encoding": {"text": {"field": "t"}, "x": {"datum": -2.496, "type": "quantitative"}, "y": {"datum": -0.246, "type": "quantitative"}}}
  ]
},
{
  "layer": [
    {"data": {"name": "cap"}, "transform": [{"filter": "datum.line > 0"}],
     "mark": {"type": "text", "align": "left", "baseline": "middle", "font": "DejaVu Serif", "fontSize": 16.9, "color": "#231f20"},
     "encoding": {"text": {"field": "t"},
       "x": {"datum": 0, "type": "quantitative", "scale": {"domain": [0, 1], "range": [9, 1152]}, "axis": null},
       "y": {"field": "line", "type": "quantitative", "scale": {"domain": [0, 3], "range": [456, 523]}, "axis": null}}},
    {"data": {"name": "cap"}, "transform": [{"filter": "datum.line == 0"}],
     "mark": {"type": "text", "align": "left", "baseline": "middle", "font": "DejaVu Serif", "fontSize": 16.9, "color": "#231f20", "dx": 92},
     "encoding": {"text": {"field": "t"},
       "x": {"datum": 0, "type": "quantitative"},
       "y": {"field": "line", "type": "quantitative"}}},
    {"data": {"name": "fig"},
     "mark": {"type": "text", "align": "left", "baseline": "middle", "font": "DejaVu Serif", "fontSize": 15.8, "fontWeight": "bold", "color": "#231f20"},
     "encoding": {"text": {"field": "t"}, "x": {"datum": 0, "type": "quantitative"}, "y": {"datum": 0, "type": "quantitative"}}}
  ]
}
],
"resolve": {"scale": {"x": "independent", "y": "independent"}, "axis": {"x": "independent", "y": "independent"}}
}
